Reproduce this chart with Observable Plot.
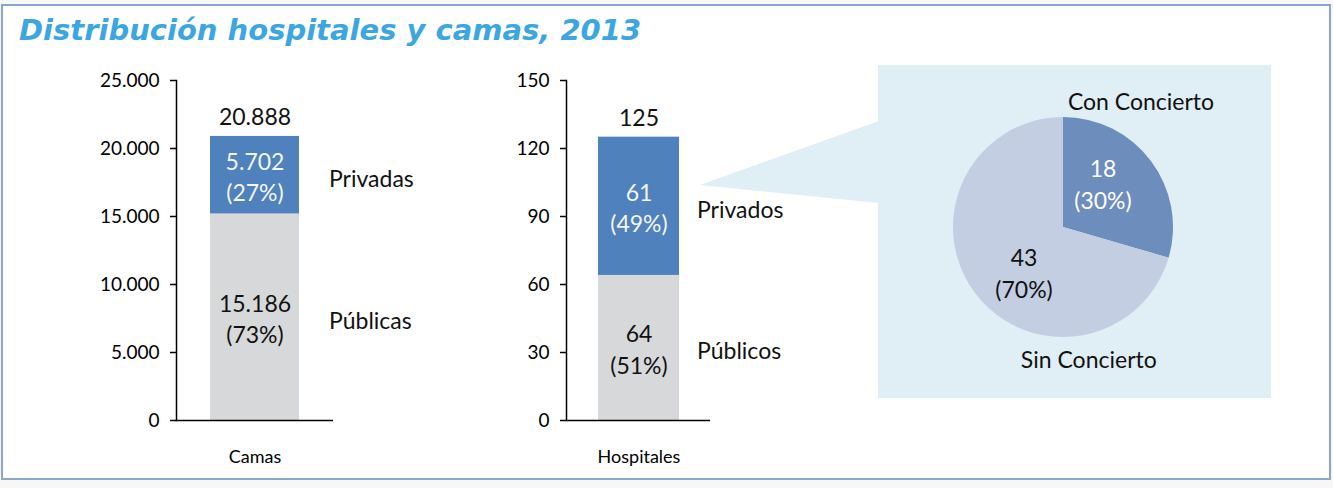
<!DOCTYPE html>
<html>
<head>
<meta charset="utf-8">
<script src="https://cdn.jsdelivr.net/npm/d3@7"></script>
<script src="https://cdn.jsdelivr.net/npm/@observablehq/plot@0.6"></script>
<style>
  body { margin: 0; background: #ffffff; }
  #root { position: relative; width: 1333px; height: 488px; overflow: hidden; background: #f7f7f7; font-family: Lato, sans-serif; }
  #frame { position: absolute; left: 1px; top: 4px; width: 1330px; height: 476px; box-sizing: border-box; border: 2px solid #8ba6ca; background: #ffffff; }
  #title { position: absolute; left: 19px; top: 13px; font: italic bold 29px "DejaVu Sans", sans-serif; color: #3ba6e0; white-space: nowrap; }
  .chart { position: absolute; }
  #deco { position: absolute; left: 0; top: 0; }
</style>
</head>
<body>
<div id="root">
  <div id="frame"></div>
  <svg id="deco" width="1333" height="488"></svg>
  <div id="title">Distribución hospitales y camas, 2013</div>
  <div id="camas" class="chart" style="left:80px;top:60px"></div>
  <div id="hosp" class="chart" style="left:480px;top:60px"></div>
  <div id="pie" class="chart" style="left:878px;top:65px"></div>
</div>
<script>
// ---------------- data ----------------
const segmentKeys = ["publico", "privado"];
const camasCategory = "Camas";
const camasNames = ["Públicas", "Privadas"];
const camasValues = [15186, 5702];
const camasTicks = [0, 5000, 10000, 15000, 20000, 25000];

const hospCategory = "Hospitales";
const hospNames = ["Públicos", "Privados"];
const hospValues = [64, 61];
const hospTicks = [0, 30, 60, 90, 120, 150];

const pieNames = ["Con Concierto", "Sin Concierto"];
const pieValues = [18, 43];

// ---------------- styles ----------------
const colorPublic = "#d7d8da";
const colorPrivate = "#4f81bd";
const colorCon = "#6d8dbd";
const colorSin = "#c3cee2";
const panelColor = "#e0eef6";
const FONT = "Lato, sans-serif";
const LABEL_SIZE = 23;

const locale = d3.formatLocale({decimal: ",", thousands: ".", grouping: [3], currency: ["", "€"]});
const fmt = locale.format(",d");

function barChart({category, names, values, ticks, marginLeft, marginRight, padding, nameDx}) {
  const total = d3.sum(values);
  const rows = values.map((v, i) => ({
    category,
    key: segmentKeys[i],
    name: names[i],
    value: v,
    y1: d3.sum(values.slice(0, i)),
    y2: d3.sum(values.slice(0, i + 1)),
    pct: Math.round(v / total * 100)
  }));
  return Plot.plot({
    width: 360,
    height: 420,
    marginTop: 20,
    marginBottom: 60,
    marginLeft,
    marginRight,
    style: {fontFamily: FONT, color: "#000", background: "transparent", overflow: "visible"},
    x: {domain: [category], padding, axis: null},
    y: {domain: [0, d3.max(ticks)], axis: null},
    color: {domain: segmentKeys, range: [colorPublic, colorPrivate]},
    marks: [
      Plot.barY(rows, {x: "category", y1: "y1", y2: "y2", fill: "key"}),
      Plot.axisY({ticks, tickFormat: fmt, tickSize: 6, tickPadding: 11, fontSize: 19, strokeWidth: 1.5, label: null}),
      Plot.axisX({tickSize: 0, tickPadding: 30, fontSize: 18, label: null}),
      Plot.frame({anchor: "left", strokeWidth: 1.5}),
      Plot.ruleY([0], {strokeWidth: 1.5}),
      Plot.text(rows, {
        x: "category", y: d => (d.y1 + d.y2) / 2,
        text: d => `${fmt(d.value)}\n(${d.pct}%)`,
        fill: d => d.key === "privado" ? "#f4f6fb" : "#111",
        fontSize: LABEL_SIZE, lineHeight: 1.36
      }),
      Plot.text(rows, {
        x: "category", y: d => (d.y1 + d.y2) / 2, dy: 4,
        text: "name", textAnchor: "start", dx: nameDx, fontSize: LABEL_SIZE, fill: "#111"
      }),
      Plot.text([total], {
        x: () => category, y: d => d, text: d => fmt(d),
        lineAnchor: "bottom", dy: -11, fontSize: LABEL_SIZE, fill: "#111"
      })
    ]
  });
}

document.getElementById("camas").append(barChart({
  category: camasCategory, names: camasNames, values: camasValues, ticks: camasTicks,
  marginLeft: 96, marginRight: 107, padding: 0.276, nameDx: 74
}));
document.getElementById("hosp").append(barChart({
  category: hospCategory, names: hospNames, values: hospValues, ticks: hospTicks,
  marginLeft: 86, marginRight: 130, padding: 0.28, nameDx: 58
}));

// ---------------- pie ----------------
const pieTotal = d3.sum(pieValues);
const pieData = pieValues.map((v, i) => ({name: pieNames[i], value: v, pct: Math.round(v / pieTotal * 100)}));
const arcs = d3.pie().sort(null).value(d => d.value)(pieData);
arcs.forEach(a => {
  const mid = (a.startAngle + a.endAngle) / 2 - 0.2;
  a.lx = 0.54 * Math.sin(mid);
  a.ly = 0.54 * Math.cos(mid);
});

function pieMark(arcs, colors) {
  return (index, scales) => {
    const cx = scales.x(0), cy = scales.y(0);
    const r = Math.abs(scales.x(1) - scales.x(0));
    const g = d3.create("svg:g").attr("transform", `translate(${cx},${cy})`);
    const arc = d3.arc().innerRadius(0).outerRadius(r);
    g.selectAll("path").data(arcs).join("path")
      .attr("d", arc)
      .attr("fill", (d, i) => colors[i]);
    return g.node();
  };
}

const piePlot = Plot.plot({
  width: 393,
  height: 333,
  marginLeft: 75,
  marginRight: 98,
  marginTop: 52,
  marginBottom: 61,
  style: {fontFamily: FONT, background: panelColor, overflow: "visible"},
  x: {domain: [-1, 1], axis: null},
  y: {domain: [-1, 1], axis: null},
  marks: [
    pieMark(arcs, [colorCon, colorSin]),
    Plot.text(arcs, {
      x: "lx", y: "ly",
      text: d => `${d.data.value}\n(${d.data.pct}%)`,
      fill: (d, i) => i === 0 ? "#ffffff" : "#111",
      fontSize: LABEL_SIZE, lineHeight: 1.36
    }),
    Plot.text([pieNames[0]], {x: () => 0.04, y: () => 1, dy: -8, text: d => d, textAnchor: "start", lineAnchor: "bottom", fontSize: LABEL_SIZE, fill: "#111"}),
    Plot.text([pieNames[1]], {x: () => 0.23, y: () => -1, dy: 14, text: d => d, lineAnchor: "top", fontSize: LABEL_SIZE, fill: "#111"})
  ]
});
document.getElementById("pie").append(piePlot);

// callout wedge connecting the private hospitals bar with the pie panel
d3.select("#deco").append("polygon")
  .attr("points", "700,185 879,121 879,203")
  .attr("fill", panelColor);
</script>
</body>
</html>
